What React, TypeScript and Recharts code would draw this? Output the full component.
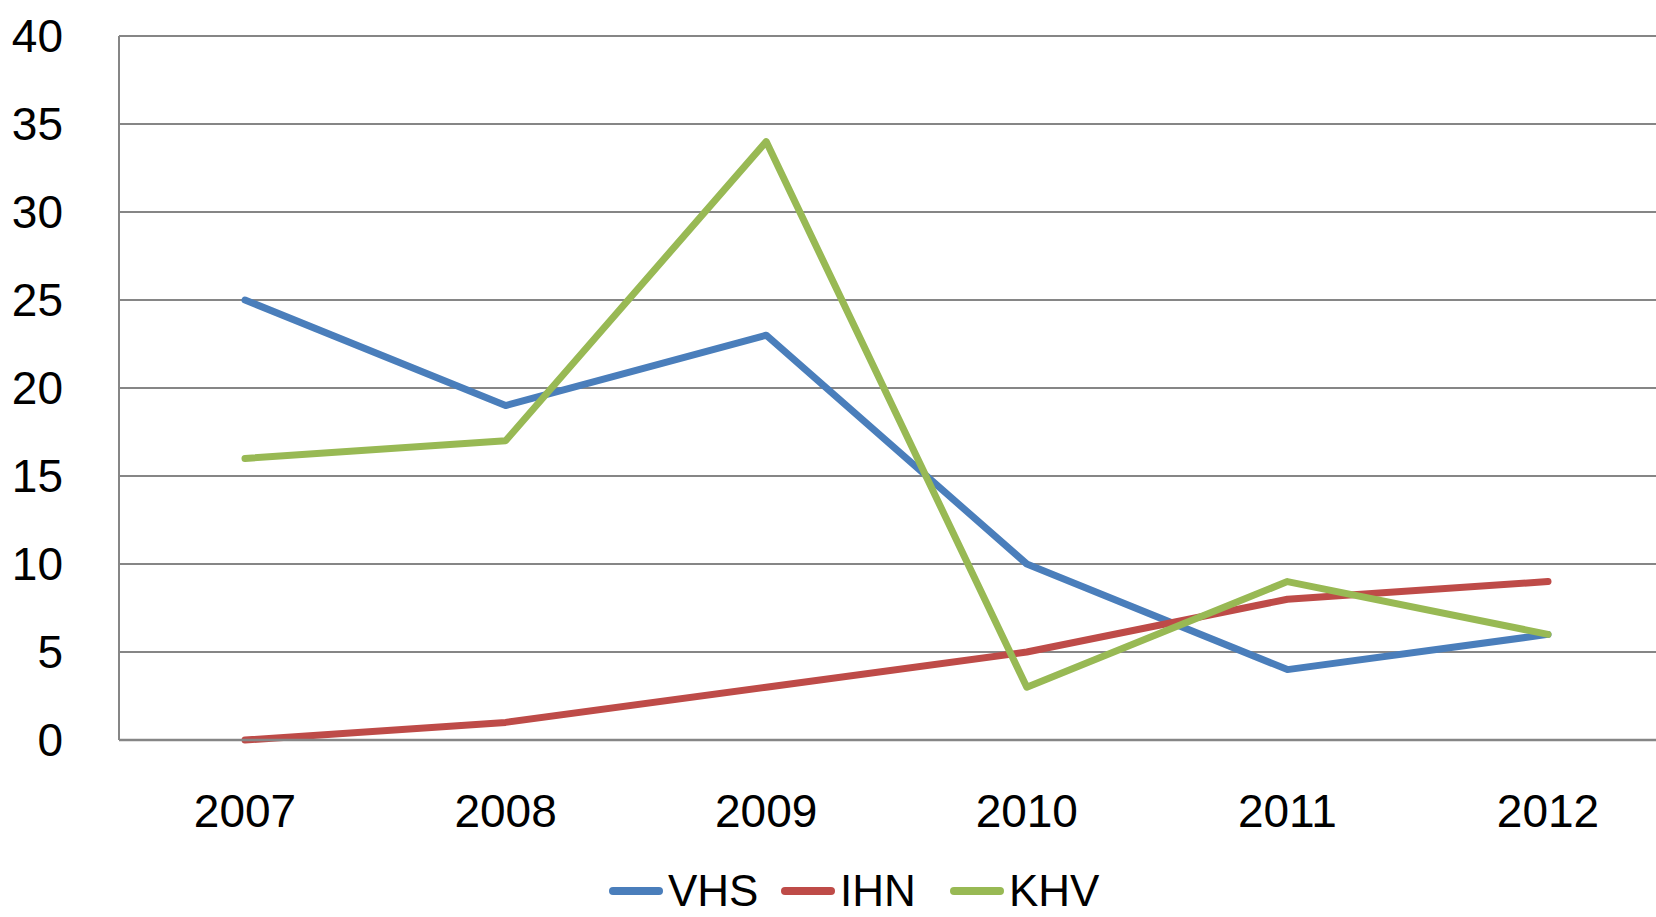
import React from "react";
import {
  LineChart,
  Line,
  XAxis,
  YAxis,
  CartesianGrid,
  Legend,
} from "recharts";

// yearly counts
const years = ["2007", "2008", "2009", "2010", "2011", "2012"];
const vhs = [25, 19, 23, 10, 4, 6];
const ihn = [0, 1, 3, 5, 8, 9];
const khv = [16, 17, 34, 3, 9, 6];
const yTicks = [0, 5, 10, 15, 20, 25, 30, 35, 40];
const seriesNames = ["VHS", "IHN", "KHV"];

const data = years.map((year, i) => ({
  year,
  VHS: vhs[i],
  IHN: ihn[i],
  KHV: khv[i],
}));

const font = "'Liberation Sans', Arial, sans-serif";
const gridColor = "#868686";
const legendItemWidths = [172, 169, 160];

const LegendContent = (props: any) => {
  const { payload } = props;
  if (!payload) return null;
  // keep the series order instead of recharts' alphabetical sort
  const items = [...payload].sort(
    (a: any, b: any) => seriesNames.indexOf(a.value) - seriesNames.indexOf(b.value)
  );
  return (
    <div style={{ display: "flex", alignItems: "center", marginLeft: 609 }}>
      {items.map((entry: any, index: number) => (
        <div
          key={`legend-${index}`}
          style={{
            display: "flex",
            alignItems: "center",
            height: 38,
            width: legendItemWidths[index],
          }}
        >
          <svg width={56} height={12}>
            <line
              x1={4}
              y1={6}
              x2={50}
              y2={6}
              stroke={entry.color}
              strokeWidth={8}
              strokeLinecap="round"
            />
          </svg>
          <span
            style={{
              display: "inline-block",
              height: 38,
              fontFamily: font,
              fontSize: 44,
              color: "#000",
              marginLeft: 3,
              lineHeight: "38px",
            }}
          >
            {entry.value}
          </span>
        </div>
      ))}
    </div>
  );
};

export default function App() {
  return (
    <div
      style={{
        position: "absolute",
        left: 0,
        top: 0,
        width: 1656,
        height: 917,
        overflow: "hidden",
        background: "#fff",
      }}
    >
      <LineChart
        width={1674}
        height={917}
        data={data}
        margin={{ top: 36, right: 0, bottom: 147, left: 0 }}
      >
        <CartesianGrid vertical={false} stroke={gridColor} strokeWidth={2} />
        <XAxis
          dataKey="year"
          padding={{ left: 126, right: 126 }}
          height={30}
          tickLine={false}
          tickSize={0}
          tickMargin={54}
          axisLine={{ stroke: gridColor, strokeWidth: 2.5 }}
          tick={{ fill: "#000", fontSize: 46, fontFamily: font }}
        />
        <YAxis
          domain={[0, 40]}
          ticks={yTicks}
          width={119}
          tickLine={false}
          tickSize={0}
          tickMargin={56}
          axisLine={{ stroke: gridColor, strokeWidth: 2 }}
          tick={{ fill: "#000", fontSize: 46, fontFamily: font }}
        />
        <Legend
          layout="horizontal"
          verticalAlign="middle"
          align="center"
          content={<LegendContent />}
          wrapperStyle={{ top: 872, left: 0, width: 1674 }}
        />
        <Line
          type="linear"
          dataKey="VHS"
          stroke="#4A7EBB"
          strokeWidth={7}
          strokeLinejoin="round"
          strokeLinecap="round"
          dot={false}
          activeDot={false}
          isAnimationActive={false}
        />
        <Line
          type="linear"
          dataKey="IHN"
          stroke="#BE4B48"
          strokeWidth={7}
          strokeLinejoin="round"
          strokeLinecap="round"
          dot={false}
          activeDot={false}
          isAnimationActive={false}
        />
        <Line
          type="linear"
          dataKey="KHV"
          stroke="#98B954"
          strokeWidth={7}
          strokeLinejoin="round"
          strokeLinecap="round"
          dot={false}
          activeDot={false}
          isAnimationActive={false}
        />
      </LineChart>
    </div>
  );
}
